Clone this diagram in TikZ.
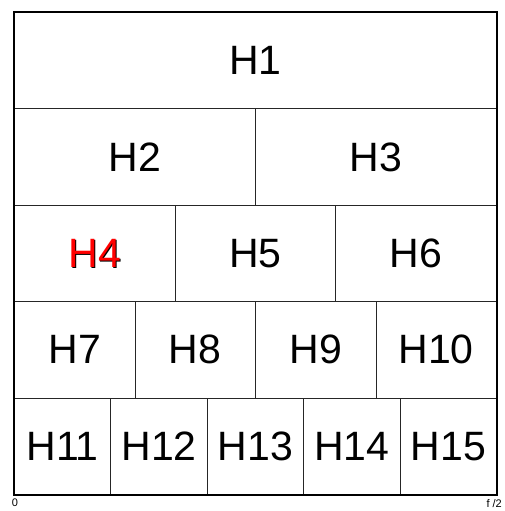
\documentclass[tikz,border=0pt]{standalone}
\usepackage{fontspec}
\setmainfont{Liberation Sans}
\begin{document}
\begin{tikzpicture}[x=1pt,y=-1pt,
  cell/.style={draw=black!85,line width=0.9pt,minimum width=#1,minimum height=96.4pt,inner sep=0pt,anchor=north west,font=\fontsize{41}{41}\selectfont},
  outer/.style={draw=black,line width=1.4pt},
  axislbl/.style={font=\fontsize{11}{11}\selectfont,inner sep=0pt,anchor=north}]
\useasboundingbox (0,0) rectangle (504,511);
\fill[white] (0,0) rectangle (504,511);
% row 1
\node[cell=482pt] (h1) at (14,12) {H1};
% row 2
\node[cell=241pt] (h2) at (14,108.4) {H2};
\node[cell=241pt] (h3) at (255,108.4) {H3};
% row 3
\node[cell=160.67pt] (h4) at (14,204.8) {};
\node[cell=160.67pt] (h5) at (174.67,204.8) {H5};
\node[cell=160.67pt] (h6) at (335.33,204.8) {H6};
% row 4
\node[cell=120.5pt] (h7) at (14,301.2) {H7};
\node[cell=120.5pt] (h8) at (134.5,301.2) {H8};
\node[cell=120.5pt] (h9) at (255,301.2) {H9};
\node[cell=120.5pt] (h10) at (375.5,301.2) {H10};
% row 5
\node[cell=96.4pt] (h11) at (14,397.6) {H11};
\node[cell=96.4pt] (h12) at (110.4,397.6) {H12};
\node[cell=96.4pt] (h13) at (206.8,397.6) {H13};
\node[cell=96.4pt] (h14) at (303.2,397.6) {H14};
\node[cell=96.4pt] (h15) at (399.6,397.6) {H15};
% red H4 with shadow
\node[font=\fontsize{41}{41}\selectfont,text=black] (h4s) at ([xshift=1.3pt,yshift=-1.3pt]h4.center) {H4};
\node[font=\fontsize{41}{41}\selectfont,text=red] (h4t) at (h4.center) {H4};
% outer frame
\draw[outer] (h1.north west) rectangle (h15.south east);
% axis labels
\node[axislbl] (zero) at (15,499) {0};
\node[axislbl,anchor=north east] (fhalf) at (502,499) {f /2};
\end{tikzpicture}
\end{document}
